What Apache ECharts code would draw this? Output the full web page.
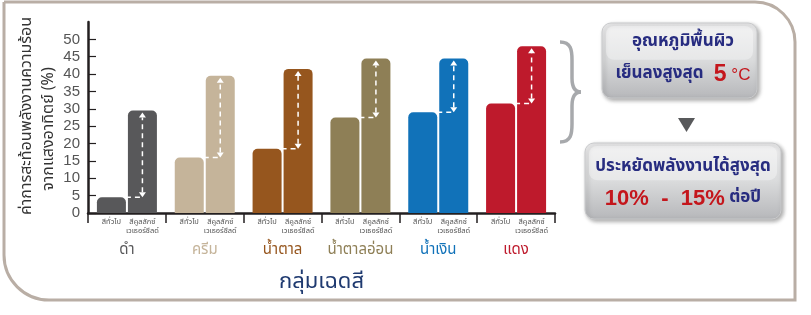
<!DOCTYPE html>
<html>
<head>
<meta charset="utf-8">
<script src="https://cdn.jsdelivr.net/npm/echarts@6/dist/echarts.min.js"></script>
<style>
  html, body { margin: 0; padding: 0; background: #fff; }
  #chart { width: 811px; height: 315px; }
</style>
</head>
<body>
<div id="chart"></div>
<script>
const groups = ['ดำ', 'ครีม', 'น้ำตาล', 'น้ำตาลอ่อน', 'น้ำเงิน', 'แดง'];
const generalValues = [4.5, 16, 18.5, 27.5, 29, 31.5];
const coolValues = [29.5, 39.5, 41.5, 44.5, 44.5, 48];
const yTicks = [0, 5, 10, 15, 20, 25, 30, 35, 40, 45, 50];
const groupColors = ['#58585a', '#c5b49a', '#96561e', '#8e7f56', '#1172b9', '#be1a2c'];
const labelColors = ['#58585a', '#c5b49a', '#96561e', '#8e7f56', '#1172b9', '#be1a2c'];

const THAI = '"Noto Sans Thai", "Noto Sans", "DejaVu Sans", sans-serif';
const NAVY = '#272c80';
const RED = '#c4161c';
const BAR_W = 29;
const GAP = 2;

const chart = echarts.init(document.getElementById('chart'), null, { renderer: 'canvas' });

// white dashed arrow from general level up to the cool-paint bar top
function renderArrow(params, api) {
  const idx = api.value(0);
  const pGen = api.coord([idx, api.value(1)]);
  const pRef = api.coord([idx, api.value(2)]);
  const cx = pGen[0];
  const ax = cx + (BAR_W + GAP) / 2;
  const yLow = pGen[1];
  const yHigh = pRef[1] + 2;
  const dash = { stroke: '#fff', lineWidth: 1.5, lineDash: [5, 4] };
  return {
    type: 'group',
    children: [
      { type: 'line', shape: { x1: cx - GAP / 2, y1: yLow, x2: ax, y2: yLow }, style: dash },
      { type: 'line', shape: { x1: ax, y1: yLow - 5, x2: ax, y2: yHigh + 5 }, style: dash },
      { type: 'polygon', shape: { points: [[ax - 3.5, yLow - 5], [ax + 3.5, yLow - 5], [ax, yLow]] }, style: { fill: '#fff' } },
      { type: 'polygon', shape: { points: [[ax - 3.5, yHigh + 5], [ax + 3.5, yHigh + 5], [ax, yHigh]] }, style: { fill: '#fff' } },
    ],
  };
}

function panelBox(x, y, w, h) {
  return [
    {
      type: 'rect',
      shape: { x, y, width: w, height: h, r: 9 },
      style: {
        fill: {
          type: 'linear', x: 0, y: 0, x2: 0, y2: 1,
          colorStops: [
            { offset: 0, color: '#ececed' },
            { offset: 0.5, color: '#dadbdc' },
            { offset: 1, color: '#b6b7ba' },
          ],
        },
        stroke: '#c9cacc',
        lineWidth: 1,
        shadowBlur: 4,
        shadowOffsetX: 2,
        shadowOffsetY: 2,
        shadowColor: 'rgba(0,0,0,0.35)',
      },
      z: 10,
    },
    {
      type: 'rect',
      shape: { x: x + 4, y: y + 3, width: w - 8, height: h * 0.45, r: 8 },
      style: { fill: 'rgba(255,255,255,0.35)' },
      z: 11,
    },
  ];
}

const braceStyle = { fill: 'none', stroke: '#a7a9ac', lineWidth: 3.5 };
const brace = [
  { type: 'bezierCurve', shape: { x1: 560, y1: 42, cpx1: 571, cpy1: 42, cpx2: 572, cpy2: 50, x2: 572, y2: 60 }, style: braceStyle },
  { type: 'line', shape: { x1: 572, y1: 60, x2: 572, y2: 78 }, style: braceStyle },
  { type: 'bezierCurve', shape: { x1: 572, y1: 78, cpx1: 572, cpy1: 88, cpx2: 575, cpy2: 92, x2: 581, y2: 92 }, style: braceStyle },
  { type: 'bezierCurve', shape: { x1: 581, y1: 92, cpx1: 575, cpy1: 92, cpx2: 572, cpy2: 96, x2: 572, y2: 106 }, style: braceStyle },
  { type: 'line', shape: { x1: 572, y1: 106, x2: 572, y2: 124 }, style: braceStyle },
  { type: 'bezierCurve', shape: { x1: 572, y1: 124, cpx1: 572, cpy1: 134, cpx2: 571, cpy2: 142, x2: 560, y2: 142 }, style: braceStyle },
];

chart.setOption({
  animation: false,
  grid: { left: 88, right: 256, top: 22, bottom: 102 },
  xAxis: {
    type: 'category',
    data: groups,
    axisLine: { lineStyle: { color: '#231f20', width: 2.5 } },
    axisTick: { show: true, length: 10, lineStyle: { color: '#231f20', width: 1.5 } },
    axisLabel: {
      interval: 0,
      margin: 30,
      fontSize: 15,
      fontFamily: THAI,
      color: (v) => labelColors[groups.indexOf(v)],
    },
    name: 'กลุ่มเฉดสี',
    nameLocation: 'middle',
    nameGap: 60,
    nameTextStyle: { fontSize: 22, color: '#1f3a70', fontFamily: THAI },
  },
  yAxis: {
    type: 'value',
    min: 0,
    max: 55,
    interval: 5,
    axisLine: { show: true, lineStyle: { color: '#231f20', width: 2.5 } },
    axisTick: { show: true, inside: true, length: 8, customValues: yTicks, lineStyle: { color: '#231f20', width: 1.2 } },
    axisLabel: {
      customValues: yTicks,
      fontSize: 15,
      color: '#555',
      margin: 8,
      fontFamily: '"Liberation Sans Narrow", "Liberation Sans", sans-serif',
    },
    splitLine: { show: false },
  },
  series: [
    {
      type: 'bar',
      data: generalValues,
      barWidth: BAR_W,
      barGap: (GAP / BAR_W * 100) + '%',
      itemStyle: { color: (p) => groupColors[p.dataIndex], borderRadius: [5, 5, 0, 0] },
      label: {
        show: true, position: 'bottom', distance: 5, formatter: 'สีทั่วไป',
        fontSize: 7.5, lineHeight: 9, color: '#555', fontFamily: THAI,
      },
    },
    {
      type: 'bar',
      data: coolValues,
      barWidth: BAR_W,
      itemStyle: { color: (p) => groupColors[p.dataIndex], borderRadius: [5, 5, 0, 0] },
      label: {
        show: true, position: 'bottom', distance: 5, formatter: 'สีคูลลักซ์\nเวเธอร์ชีลด์',
        fontSize: 7.5, lineHeight: 9, color: '#555', fontFamily: THAI,
      },
    },
    {
      type: 'custom',
      renderItem: renderArrow,
      encode: { x: 0, y: [1, 2] },
      data: groups.map((g, i) => [i, generalValues[i], coolValues[i]]),
      z: 10,
      silent: true,
    },
  ],
  graphic: [
    // outer frame
    {
      type: 'rect',
      shape: { x: 4, y: 2, width: 791, height: 298, r: [0, 40, 0, 45] },
      style: { fill: 'none', stroke: '#b9aea5', lineWidth: 3 },
      z: 0,
    },
    // y axis title
    {
      type: 'text', x: 28, y: 116, rotation: Math.PI / 2,
      style: { text: 'ค่าการสะท้อนพลังงานความร้อน', fontSize: 16, fill: '#333', fontFamily: THAI, align: 'center', verticalAlign: 'middle' },
    },
    {
      type: 'text', x: 50, y: 129, rotation: Math.PI / 2,
      style: { text: 'จากแสงอาทิตย์ (%)', fontSize: 16, fill: '#333', fontFamily: THAI, align: 'center', verticalAlign: 'middle' },
    },
    ...brace,
    ...panelBox(602, 23, 155, 75),
    {
      type: 'text', x: 683, y: 43, z: 12,
      style: { text: 'อุณหภูมิพื้นผิว', fontSize: 17, fontWeight: 'bold', fill: NAVY, fontFamily: THAI, align: 'center', verticalAlign: 'middle' },
    },
    {
      type: 'text', x: 683, y: 75, z: 12,
      style: {
        text: 'เย็นลงสูงสุด {r|5}{s| °C}',
        fontSize: 17, fontWeight: 'bold', fill: NAVY, fontFamily: THAI, align: 'center', verticalAlign: 'middle',
        rich: {
          r: { fontSize: 23, fontWeight: 'bold', fill: RED, fontFamily: '"Liberation Sans", sans-serif', padding: [0, 0, 0, 6] },
          s: { fontSize: 17, fill: RED, fontFamily: '"Liberation Sans", sans-serif' },
        },
      },
    },
    {
      type: 'polygon',
      shape: { points: [[678, 118], [695, 118], [686.5, 132]] },
      style: { fill: '#58595b' },
    },
    ...panelBox(585, 143, 196, 76),
    {
      type: 'text', x: 683, y: 168, z: 12,
      style: { text: 'ประหยัดพลังงานได้สูงสุด', fontSize: 17, fontWeight: 'bold', fill: NAVY, fontFamily: THAI, align: 'center', verticalAlign: 'middle' },
    },
    {
      type: 'text', x: 683, y: 199, z: 12,
      style: {
        text: '{r|10%  -  15%} ต่อปี',
        fontSize: 17, fontWeight: 'bold', fill: NAVY, fontFamily: THAI, align: 'center', verticalAlign: 'middle',
        rich: {
          r: { fontSize: 22, fontWeight: 'bold', fill: RED, fontFamily: '"Liberation Sans", sans-serif' },
        },
      },
    },
  ],
});
</script>
</body>
</html>
